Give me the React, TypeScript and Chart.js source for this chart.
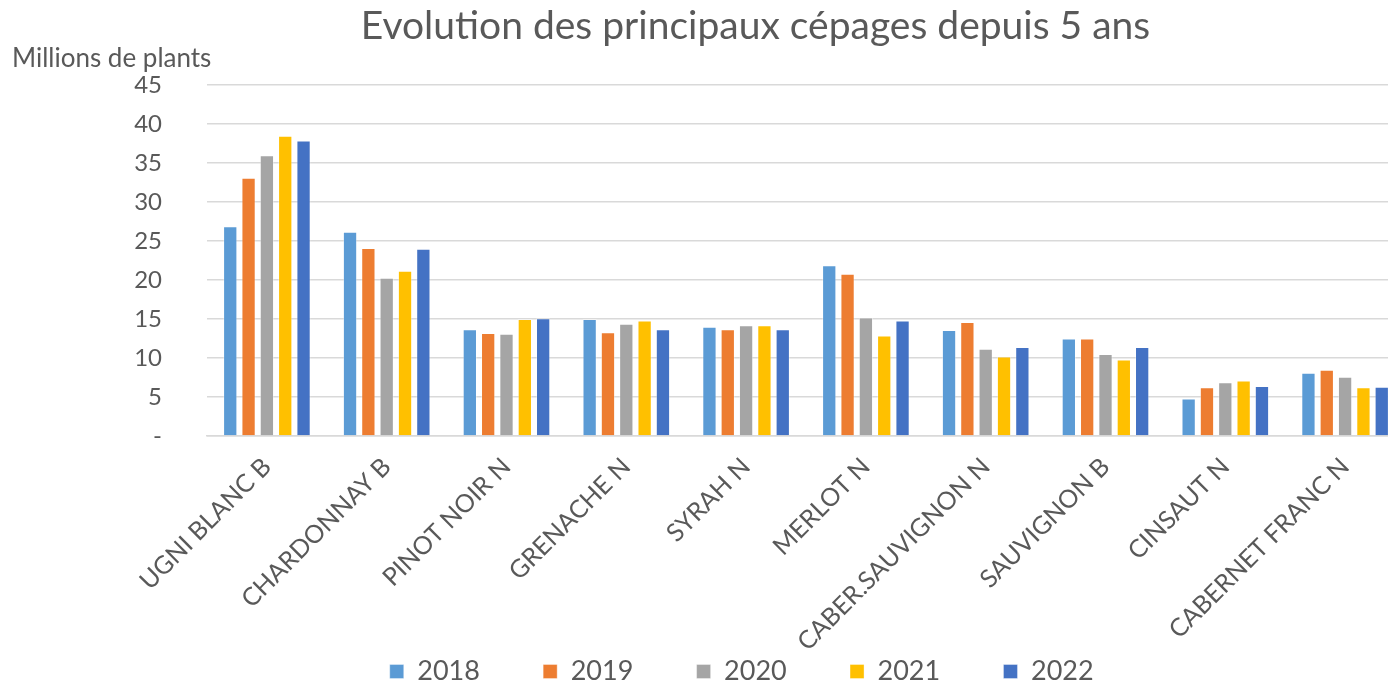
import React, { useEffect, useRef } from "react";
import { Chart, registerables } from "chart.js";

Chart.register(...registerables);

const categories = [
  "UGNI BLANC B",
  "CHARDONNAY B",
  "PINOT NOIR N",
  "GRENACHE N",
  "SYRAH N",
  "MERLOT N",
  "CABER.SAUVIGNON N",
  "SAUVIGNON B",
  "CINSAUT N",
  "CABERNET FRANC N",
];

const years = ["2018", "2019", "2020", "2021", "2022"];

const v2018 = [26.9, 26.2, 13.7, 15.0, 14.0, 21.9, 13.6, 12.5, 4.8, 8.1];
const v2019 = [33.1, 24.1, 13.2, 13.3, 13.7, 20.8, 14.6, 12.5, 6.25, 8.5];
const v2020 = [36.0, 20.3, 13.1, 14.4, 14.2, 15.2, 11.2, 10.5, 6.9, 7.6];
const v2021 = [38.5, 21.2, 15.0, 14.8, 14.2, 12.9, 10.2, 9.8, 7.1, 6.25];
const v2022 = [37.9, 24.0, 15.1, 13.7, 13.7, 14.8, 11.4, 11.4, 6.4, 6.3];

const yTickLabels = ["-", "5", "10", "15", "20", "25", "30", "35", "40", "45"];

const colors = ["#5B9BD5", "#ED7D31", "#A5A5A5", "#FFC000", "#4472C4"];

const FONT = "Lato, 'Open Sans', sans-serif";
const TEXT = "#595959";
const W = 1499;
const H = 695;

export default function App() {
  const ref = useRef<HTMLCanvasElement | null>(null);

  useEffect(() => {
    if (!ref.current) return;
    const series = [v2018, v2019, v2020, v2021, v2022];
    const chart = new Chart(ref.current, {
      type: "bar",
      data: {
        labels: categories,
        datasets: series.map((d, i) => ({
          label: years[i],
          data: d,
          backgroundColor: colors[i],
          borderColor: "rgba(255,255,255,0.35)",
          borderWidth: 1,
          barPercentage: 0.78,
          categoryPercentage: 0.765,
          yAxisID: "y",
        })),
      },
      options: {
        responsive: false,
        animation: false,
        devicePixelRatio: 1,
        layout: { padding: { left: 12, right: 0, top: 0, bottom: 0 } },
        plugins: {
          title: {
            display: true,
            text: "Evolution des principaux cépages depuis 5 ans",
            color: TEXT,
            font: { family: FONT, size: 39, weight: "normal", lineHeight: 1 },
            padding: { top: 7, bottom: 0 },
          },
          subtitle: {
            display: true,
            text: "Millions de plants",
            align: "start",
            color: TEXT,
            font: { family: FONT, size: 26, weight: "normal", lineHeight: 1 },
            padding: { top: 0, bottom: 13 },
          },
          legend: {
            position: "bottom",
            labels: {
              color: TEXT,
              font: { family: FONT, size: 27 },
              boxWidth: 14,
              boxHeight: 14,
              padding: 8,
              generateLabels: (c: any) => {
                const items = Chart.defaults.plugins.legend.labels.generateLabels(c);
                return items.map((it: any, i: number) => ({
                  ...it,
                  text: it.text + (i < items.length - 1 ? "        " : "    "),
                }));
              },
            },
          },
          tooltip: { enabled: false },
        },
        scales: {
          x: {
            grid: { display: false },
            border: { display: true, color: "#D9D9D9", width: 1.5 },
            ticks: {
              color: TEXT,
              font: { family: FONT, size: 25 },
              minRotation: 45,
              maxRotation: 45,
              autoSkip: false,
              padding: 8,
            },
            afterFit: (axis: any) => {
              axis.height = 214;
            },
          },
          y: {
            position: "left",
            min: 0,
            max: 45,
            grid: { color: "#D9D9D9", lineWidth: 1.5, drawTicks: false },
            border: { display: false },
            ticks: {
              stepSize: 5,
              color: TEXT,
              font: { family: FONT, size: 24 },
              padding: 45,
              callback: (_v: any, i: number) => yTickLabels[i],
            },
            afterFit: (axis: any) => {
              axis.width = 195;
            },
          },
          yr: {
            position: "right",
            display: true,
            grid: { display: false },
            border: { display: false },
            ticks: { display: false },
            afterFit: (axis: any) => {
              axis.width = W - 1405;
            },
          },
        },
      },
    });
    return () => chart.destroy();
  }, []);

  return (
    <div
      style={{
        position: "fixed",
        left: 0,
        top: 0,
        width: 1388,
        height: 685,
        overflow: "hidden",
        background: "#fff",
      }}
    >
      <canvas
        ref={ref}
        width={W}
        height={H}
        style={{ display: "block", width: W, height: H }}
      />
    </div>
  );
}
